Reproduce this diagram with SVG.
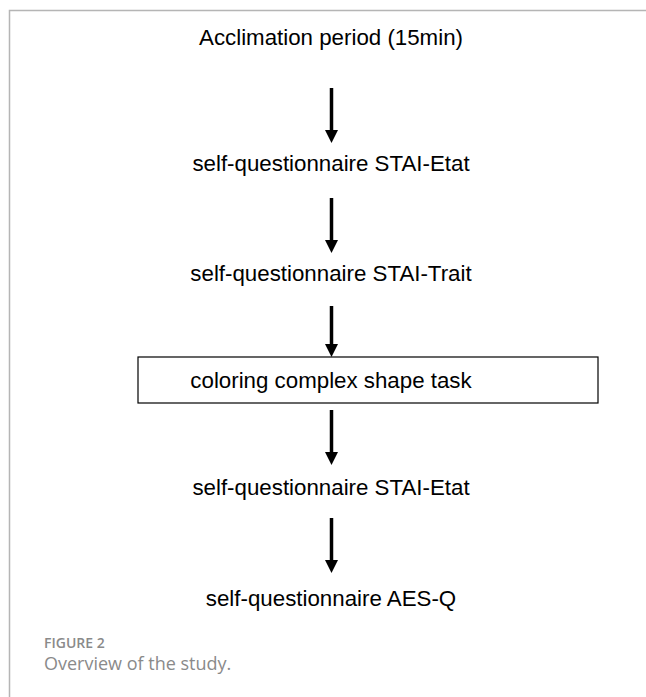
<svg xmlns="http://www.w3.org/2000/svg" width="646" height="697" viewBox="0 0 646 697">
<style>
.t{font-family:"Liberation Sans",Arial,sans-serif;font-size:22.3px;fill:#000;text-anchor:middle}
.shaft{stroke:#000;stroke-width:3.5;fill:none}
.head{fill:#000}
.cap1{font-family:"Open Sans","Liberation Sans",sans-serif;font-size:14px;fill:#8a8a8a;font-weight:600}
.cap2{font-family:"Open Sans","Liberation Sans",sans-serif;font-size:18px;fill:#8a8a8a}
</style>
<rect width="646" height="697" fill="#fff"/>
<path d="M9.5 697 V10.5 H646" stroke="#b5b5b5" stroke-width="1.5" fill="none"/>
<g id="n1"><text class="t" x="331" y="45">Acclimation period (15min)</text></g>
<g id="n2"><text class="t" x="331" y="171">self-questionnaire STAI-Etat</text></g>
<g id="n3"><text class="t" x="331" y="281">self-questionnaire STAI-Trait</text></g>
<g id="n4"><rect x="138" y="357" width="460" height="46" fill="#fff" stroke="#000" stroke-width="1.2"/><text class="t" x="331" y="388">coloring complex shape task</text></g>
<g id="n5"><text class="t" x="331" y="495">self-questionnaire STAI-Etat</text></g>
<g id="n6"><text class="t" x="331" y="606">self-questionnaire AES-Q</text></g>
<g id="connectors">
<line class="shaft" x1="331.5" y1="88" x2="331.5" y2="132"/><polygon class="head" points="325,130 338,130 331.5,143"/>
<line class="shaft" x1="331.5" y1="198" x2="331.5" y2="242"/><polygon class="head" points="325,240 338,240 331.5,253"/>
<line class="shaft" x1="331.5" y1="306" x2="331.5" y2="346"/><polygon class="head" points="325,344 338,344 331.5,357"/>
<line class="shaft" x1="331.5" y1="410" x2="331.5" y2="454"/><polygon class="head" points="325,452 338,452 331.5,465"/>
<line class="shaft" x1="331.5" y1="518" x2="331.5" y2="562"/><polygon class="head" points="325,560 338,560 331.5,573"/>
</g>
<text class="cap1" x="44" y="648">FIGURE 2</text>
<text class="cap2" x="44" y="670">Overview of the study.</text>
</svg>
